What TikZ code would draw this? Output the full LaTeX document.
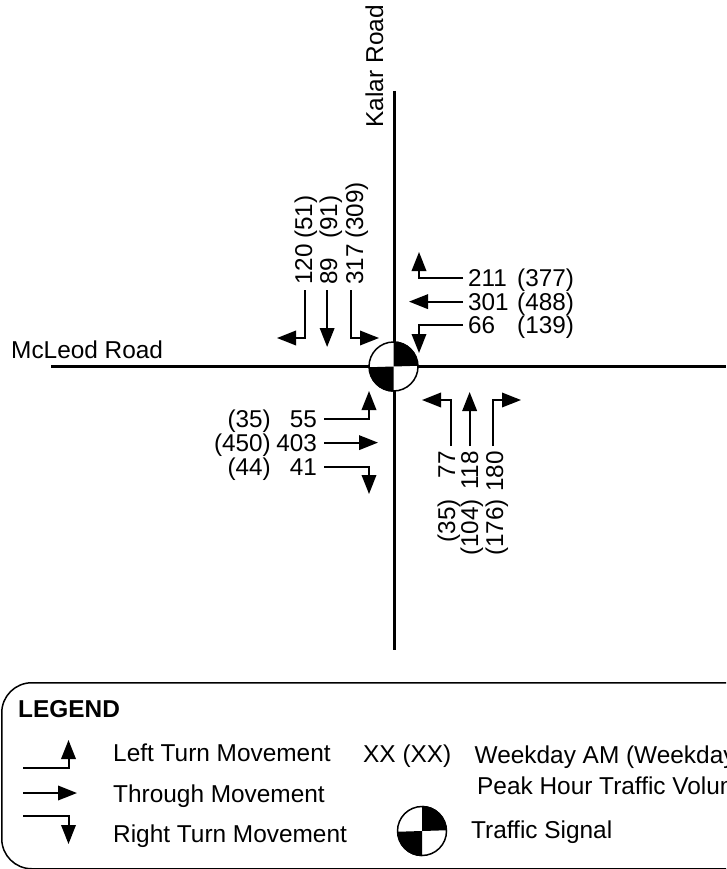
\documentclass[tikz,border=0pt]{standalone}
\usepackage{fontspec}
\setmainfont{Liberation Sans}
\usetikzlibrary{arrows.meta, positioning}
\tikzset{
  road/.style={line width=3pt},
  move/.style={line width=2pt, -{Triangle[length=19pt,width=14.5pt]}},
  lbl/.style={font=\fontsize{24.4}{28}\selectfont, inner sep=0pt},
  vol/.style={font=\fontsize{24.3}{28}\selectfont, inner sep=0pt},
  signal/.style={draw, fill=white, circle, line width=1.5pt, minimum size=49pt, inner sep=0pt},
  quad/.style={fill=black}
}
\begin{document}
\begin{tikzpicture}[x=1pt, y=-1pt]
  \useasboundingbox (0,0) rectangle (726,869);

  % roads
  \coordinate (kalarn) at (394,91);
  \coordinate (kalars) at (394,650);
  \coordinate (mcleodw) at (51,366);
  \coordinate (mcleode) at (726,366);
  \draw[road] (kalarn) -- (kalars);
  \draw[road] (mcleodw) -- (mcleode);
  \node[lbl, rotate=90, anchor=base west] (kalar) at (383,127.5) {Kalar Road};
  \node[lbl, anchor=base west] (mcleod) at (11,358) {McLeod Road};

  \node[signal] (sig) at (393.5,366.5) {};
  \fill[quad] (sig.center) -- (sig.north) arc[start angle=90, end angle=0, radius=24.5pt] -- cycle;
  \fill[quad] (sig.center) -- (sig.south) arc[start angle=270, end angle=180, radius=24.5pt] -- cycle;

  % south bound
  \node[vol, rotate=90, anchor=base west] (sbl) at (312,285) {120};
  \node[vol, rotate=90, anchor=base west] (sbt) at (337,285) {89};
  \node[vol, rotate=90, anchor=base west] (sbr) at (363,285) {317};
  \node[vol, rotate=90, anchor=base west] (sblpm) at (312,239) {(51)};
  \node[vol, rotate=90, anchor=base west] (sbtpm) at (337,239) {(91)};
  \node[vol, rotate=90, anchor=base west] (sbrpm) at (363,239) {(309)};
  \coordinate (sbltip) at (277,338);
  \coordinate (sbttip) at (327,347);
  \coordinate (sbrtip) at (379,338);
  \draw[move] ([xshift=1.5pt,yshift=-5pt]sbl.west) |- (sbltip);
  \draw[move] ([xshift=-1.5pt,yshift=-5pt]sbt.west) -- ([xshift=-1.5pt]sbt.west |- sbttip);
  \draw[move] ([xshift=-3.5pt,yshift=-5pt]sbr.west) |- (sbrtip);

  % west bound
  \node[vol, anchor=base west] (wbl) at (468,333) {66};
  \node[vol, anchor=base west] (wbt) at (468,310) {301};
  \node[vol, anchor=base west] (wbr) at (468,286) {211};
  \node[vol, anchor=base west] (wblpm) at (517,333) {(139)};
  \node[vol, anchor=base west] (wbtpm) at (517,310) {(488)};
  \node[vol, anchor=base west] (wbrpm) at (517,286) {(377)};
  \coordinate (wbltip) at (419,353);
  \coordinate (wbttip) at (409,302);
  \coordinate (wbrtip) at (419,252);
  \draw[move] ([xshift=-5pt]wbl.west) -| (wbltip);
  \draw[move] ([xshift=-5pt]wbt.west) -- (wbttip |- wbt.west);
  \draw[move] ([xshift=-5pt]wbr.west) -| (wbrtip);

  % east bound
  \node[vol, anchor=base east] (ebl) at (317,427) {55};
  \node[vol, anchor=base east] (ebt) at (317,451) {403};
  \node[vol, anchor=base east] (ebr) at (317,475) {41};
  \node[vol, anchor=base east] (eblpm) at (271,427) {(35)};
  \node[vol, anchor=base east] (ebtpm) at (271,451) {(450)};
  \node[vol, anchor=base east] (ebrpm) at (271,475) {(44)};
  \coordinate (ebltip) at (369,391);
  \coordinate (ebttip) at (378,443);
  \coordinate (ebrtip) at (369,494);
  \draw[move] ([xshift=7pt]ebl.east) -| (ebltip);
  \draw[move] ([xshift=7pt]ebt.east) -- (ebttip |- ebt.east);
  \draw[move] ([xshift=7pt]ebr.east) -| (ebrtip);

  % north bound
  \node[vol, rotate=90, anchor=base east] (nbl) at (455,451) {77};
  \node[vol, rotate=90, anchor=base east] (nbt) at (478,451) {118};
  \node[vol, rotate=90, anchor=base east] (nbr) at (503,451) {180};
  \node[vol, rotate=90, anchor=base east] (nblpm) at (455,499) {(35)};
  \node[vol, rotate=90, anchor=base east] (nbtpm) at (478,499) {(104)};
  \node[vol, rotate=90, anchor=base east] (nbrpm) at (503,499) {(176)};
  \coordinate (nbltip) at (422,400);
  \coordinate (nbttip) at (470,392);
  \coordinate (nbrtip) at (521,400);
  \draw[move] ([xshift=4.5pt,yshift=5pt]nbl.east) |- (nbltip);
  \draw[move] ([yshift=5pt]nbt.east) -- (nbt.east |- nbttip);
  \draw[move] ([xshift=-1.5pt,yshift=5pt]nbr.east) |- (nbrtip);

  % legend
  \begin{scope}
    \clip (0,0) rectangle (726,869);
    \node[draw, line width=1.5pt, rounded corners=30pt, minimum width=800pt, minimum height=186pt,
          inner sep=0pt, anchor=north west] (legend) at (1,682) {};
  \end{scope}
  \node[lbl, font=\fontsize{24.4}{28}\selectfont\bfseries, anchor=base west] (legendt) at (18,717) {LEGEND};

  \node[lbl, anchor=base west] (leftt) at (113,761) {Left Turn Movement};
  \node[lbl, anchor=base west] (thrut) at (113,802) {Through Movement};
  \node[lbl, anchor=base west] (rightt) at (113,842) {Right Turn Movement};
  \coordinate (lefts) at (23,768);
  \coordinate (leftk) at (68.5,740);
  \coordinate (thrus) at (23,793);
  \coordinate (thruk) at (77,793);
  \coordinate (rights) at (23,816);
  \coordinate (rightk) at (68.5,844);
  \draw[move] (lefts) -| (leftk);
  \draw[move] (thrus) -- (thruk);
  \draw[move] (rights) -| (rightk);

  \node[lbl, anchor=base west] (xx) at (363,762) {XX (XX)};
  \node[lbl, anchor=base west] (peakam) at (474.5,763) {Weekday AM (Weekday};
  \node[lbl, anchor=base west] (peakhr) at (477,794) {Peak Hour Traffic Volum};

  \node[signal] (sigkey) at (422,831) {};
  \fill[quad] (sigkey.center) -- (sigkey.north) arc[start angle=90, end angle=0, radius=24.5pt] -- cycle;
  \fill[quad] (sigkey.center) -- (sigkey.south) arc[start angle=270, end angle=180, radius=24.5pt] -- cycle;
  \node[lbl, anchor=base west] (sigt) at (471,838) {Traffic Signal};
\end{tikzpicture}
\end{document}
